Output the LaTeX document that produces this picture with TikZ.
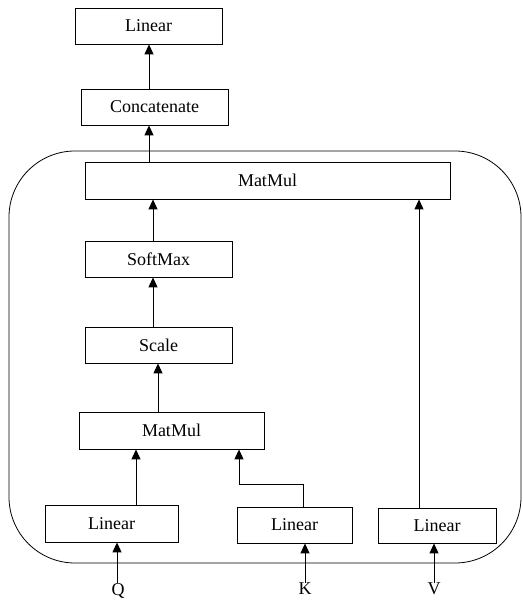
\documentclass[tikz,border=0pt]{standalone}
\usepackage{fontspec}
\setmainfont{Liberation Serif}
\usetikzlibrary{arrows.meta}
\begin{document}
\begin{tikzpicture}[x=1pt,y=-1pt,
  box/.style={draw,line width=0.8pt,inner sep=0pt,font=\fontsize{18}{20}\selectfont},
  lbl/.style={inner sep=0pt,font=\fontsize{18}{20}\selectfont},
  arr/.style={line width=0.9pt,-{Triangle[length=10pt,width=9pt]}}]
\useasboundingbox (0,0) rectangle (522,601);
% frame
\draw[line width=0.8pt,rounded corners=66pt] (9,151) rectangle (521,563);
% boxes
\node[box,minimum width=147pt,minimum height=36pt] (lin1) at (148.5,26) {Linear};
\node[box,minimum width=147pt,minimum height=36pt] (concat) at (154.5,107) {Concatenate};
\node[box,minimum width=365pt,minimum height=37pt] (mm2) at (267.5,180.5) {MatMul};
\node[box,minimum width=147pt,minimum height=36pt] (soft) at (158.5,259) {SoftMax};
\node[box,minimum width=147pt,minimum height=36pt] (scale) at (158.5,345) {Scale};
\node[box,minimum width=185pt,minimum height=37pt] (mm1) at (171.5,430.5) {MatMul};
\node[box,minimum width=133pt,minimum height=37pt] (linQ) at (111.5,523.5) {Linear};
\node[box,minimum width=115pt,minimum height=36pt] (linK) at (294.5,525) {Linear};
\node[box,minimum width=118pt,minimum height=35pt] (linV) at (437,525.5) {Linear};
% labels
\node[lbl,anchor=north] (Q) at (118,583) {Q};
\node[lbl,anchor=north] (K) at (305,583) {K};
\node[lbl,anchor=north] (V) at (434,583) {V};
% column coordinates
\coordinate (c149) at (149,0);
\coordinate (c153) at (153,0);
\coordinate (c158) at (158,0);
\coordinate (c136) at (136,0);
\coordinate (c239) at (239,0);
\coordinate (c303) at (303,0);
\coordinate (c419) at (419,0);
\coordinate (c117) at (117,0);
\coordinate (kbend) at (303,484);
\coordinate (kcorner) at (239,484);
% connectors
\draw[arr] (concat.north -| c149) -- (lin1.south -| c149);
\draw[arr] (mm2.north -| c149) -- (concat.south -| c149);
\draw[arr] (soft.north -| c153) -- (mm2.south -| c153);
\draw[arr] (scale.north -| c153) -- (soft.south -| c153);
\draw[arr] (mm1.north -| c158) -- (scale.south -| c158);
\draw[arr] (linQ.north -| c136) -- (mm1.south -| c136);
\draw[arr] (linK.north -| c303) -- (kbend) -- (kcorner) -- (mm1.south -| c239);
\draw[arr] (linV.north -| c419) -- (mm2.south -| c419);
\draw[arr] (Q.north -| c117) -- (linQ.south -| c117);
\draw[arr] (K.north) -- (K.north |- linK.south);
\draw[arr] (V.north) -- (V.north |- linV.south);
\end{tikzpicture}
\end{document}
